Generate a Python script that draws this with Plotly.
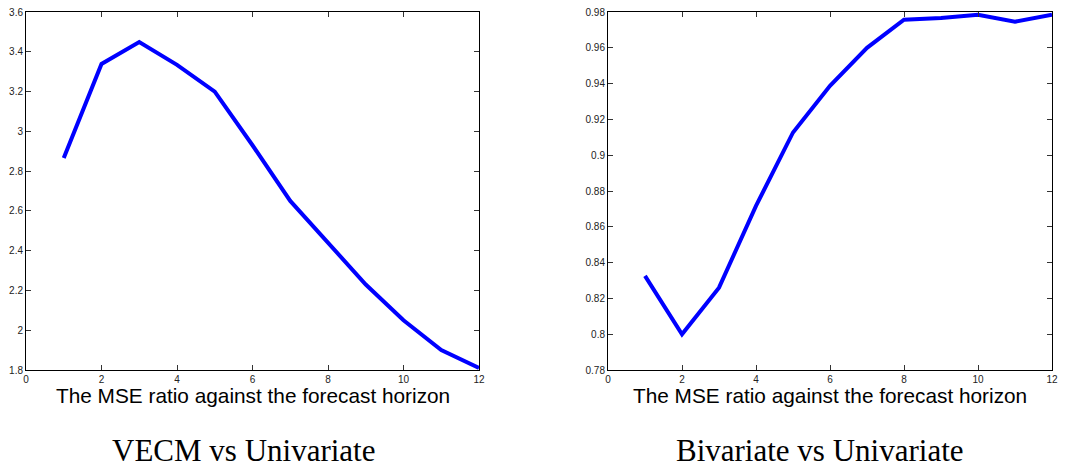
import plotly.graph_objects as go
from plotly.subplots import make_subplots

horizon = list(range(1, 13))
vecm_ratio = [2.866, 3.339, 3.449, 3.334, 3.20, 2.93, 2.65, 2.44, 2.23, 2.05, 1.90, 1.81]
bivar_ratio = [0.8326, 0.800, 0.826, 0.8717, 0.9127, 0.9388, 0.960, 0.9757, 0.9766, 0.9785, 0.9746, 0.9785]

x_ticks = [0, 2, 4, 6, 8, 10, 12]
left_yticks = [1.8, 2.0, 2.2, 2.4, 2.6, 2.8, 3.0, 3.2, 3.4, 3.6]
left_ylabels = ["1.8", "2", "2.2", "2.4", "2.6", "2.8", "3", "3.2", "3.4", "3.6"]
right_yticks = [0.78, 0.80, 0.82, 0.84, 0.86, 0.88, 0.90, 0.92, 0.94, 0.96, 0.98]
right_ylabels = ["0.78", "0.8", "0.82", "0.84", "0.86", "0.88", "0.9", "0.92", "0.94", "0.96", "0.98"]

xlabel = "The MSE ratio against the forecast horizon"
titles = ["VECM vs Univariate", "Bivariate vs Univariate"]

W, H = 1073, 470
fig = make_subplots(rows=1, cols=2)

fig.add_trace(go.Scatter(x=horizon, y=vecm_ratio, mode="lines",
                         line=dict(color="#0000ff", width=4)), row=1, col=1)
fig.add_trace(go.Scatter(x=horizon, y=bivar_ratio, mode="lines",
                         line=dict(color="#0000ff", width=4)), row=1, col=2)

ydom = [(H - 370) / H, (H - 12) / H]
xdoms = [[26 / W, 479 / W], [608 / W, 1052 / W]]

axis_common = dict(showgrid=False, zeroline=False, showline=True, linecolor="black",
                   linewidth=1, mirror="allticks", ticks="inside", ticklen=5,
                   tickcolor="#333333", tickwidth=1, automargin=False,
                   tickfont=dict(family="Liberation Sans, Arial", size=10, color="#222222"))

fig.update_xaxes(range=[0, 12], tickvals=x_ticks, ticktext=[str(t) for t in x_ticks], **axis_common)
fig.update_yaxes(**axis_common)
fig.update_layout(
    xaxis=dict(domain=xdoms[0]),
    xaxis2=dict(domain=xdoms[1]),
    yaxis=dict(domain=ydom, range=[1.8, 3.6], tickvals=left_yticks, ticktext=left_ylabels),
    yaxis2=dict(domain=ydom, range=[0.78, 0.98], tickvals=right_yticks, ticktext=right_ylabels),
)

centers = [(26 + 479) / 2 / W, (608 + 1052) / 2 / W]
title_centers = [243.5 / W, 820 / W]
for i in range(2):
    fig.add_annotation(text=xlabel, x=centers[i], y=(H - 395) / H, xref="paper", yref="paper",
                       showarrow=False, xanchor="center", yanchor="middle",
                       font=dict(family="Liberation Sans, Arial", size=20.8, color="black"))
    fig.add_annotation(text=titles[i], x=title_centers[i], y=0, xref="paper", yref="paper",
                       showarrow=False, xanchor="center", yanchor="bottom",
                       font=dict(family="Liberation Serif, DejaVu Serif, serif", size=31, color="black"))

fig.update_layout(width=W, height=H, margin=dict(l=0, r=0, t=0, b=0, autoexpand=False),
                  paper_bgcolor="white", plot_bgcolor="white", showlegend=False)

fig.write_html("out.html", config={"displayModeBar": False},
               post_script="document.body.style.margin='0';document.body.style.padding='0';")
